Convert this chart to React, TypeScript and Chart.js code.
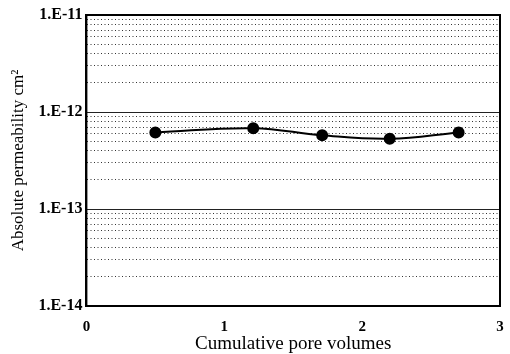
import React, { useEffect, useRef } from "react";
import { Chart, registerables } from "chart.js";

Chart.register(...registerables);

// ---- data ----
const poreVolumes = [0.5, 1.21, 1.71, 2.2, 2.7];
const permeability = [6.15e-13, 6.8e-13, 5.75e-13, 5.3e-13, 6.15e-13];
const xTickValues = [0, 1, 2, 3];
const xTickLabels = ["0", "1", "2", "3"];
const decadeValues = [1e-14, 1e-13, 1e-12, 1e-11];
const decadeLabels = ["1.E-14", "1.E-13", "1.E-12", "1.E-11"];
const mantissas = [1, 2, 3, 4, 5, 6, 7, 8, 9];

const FONT = "'Liberation Serif', 'DejaVu Serif', serif";

function isDecade(v: number) {
  const l = Math.log10(v);
  return Math.abs(l - Math.round(l)) < 1e-6;
}
function decadeLabel(v: number) {
  const i = decadeValues.findIndex((d) => Math.abs(Math.log10(d) - Math.log10(v)) < 1e-6);
  return i >= 0 ? decadeLabels[i] : "";
}

const allYTicks: number[] = [];
for (let k = 0; k < decadeValues.length - 1; k++) {
  for (const m of mantissas) allYTicks.push(m * decadeValues[k]);
}
allYTicks.push(decadeValues[decadeValues.length - 1]);

// solid decade grid lines + frame, positioned by the y scale
const framePlugin = {
  id: "frame",
  beforeDatasetsDraw(chart: any) {
    const { ctx, chartArea } = chart;
    const ys = chart.scales.y;
    ctx.save();
    ctx.strokeStyle = "#222";
    ctx.lineWidth = 1;
    for (const v of decadeValues) {
      const py = Math.round(ys.getPixelForValue(v)) + 0.5;
      ctx.beginPath();
      ctx.moveTo(chartArea.left, py);
      ctx.lineTo(chartArea.right, py);
      ctx.stroke();
    }
    ctx.restore();
  },
  afterDraw(chart: any) {
    const { ctx, chartArea } = chart;
    ctx.save();
    ctx.strokeStyle = "#000";
    ctx.lineWidth = 2;
    ctx.strokeRect(chartArea.left, chartArea.top, chartArea.right - chartArea.left, chartArea.bottom - chartArea.top);
    ctx.restore();
  },
};

export default function App() {
  const ref = useRef<HTMLCanvasElement | null>(null);
  useEffect(() => {
    document.body.style.margin = "0";
    const chart = new Chart(ref.current as HTMLCanvasElement, {
      type: "line",
      data: {
        datasets: [
          {
            data: poreVolumes.map((x, i) => ({ x, y: permeability[i] })),
            borderColor: "#000",
            backgroundColor: "#000",
            borderWidth: 2,
            pointRadius: 5,
            pointBackgroundColor: "#000",
            pointBorderColor: "#000",
            tension: 0.4,
            fill: false,
          },
        ],
      },
      options: {
        animation: false,
        responsive: false,
        maintainAspectRatio: false,
        layout: { padding: { top: 15, right: 10, bottom: 0, left: 8 } },
        plugins: { legend: { display: false }, tooltip: { enabled: false } },
        scales: {
          x: {
            type: "linear",
            min: 0,
            max: 3,
            afterBuildTicks: (s: any) => {
              s.ticks = xTickValues.map((v) => ({ value: v }));
            },
            afterFit: (s: any) => {
              s.paddingRight = 0;
              s.paddingLeft = 0;
              s.height = 48;
            },
            ticks: {
              color: "#000",
              font: { family: FONT, size: 15, weight: "bold" },
              padding: 12,
              maxRotation: 0,
              callback: (v: any) => xTickLabels[xTickValues.indexOf(Number(v))] ?? "",
            },
            grid: { display: false, drawTicks: false },
            border: { display: true, color: "#000", width: 2 },
            title: {
              display: true,
              text: "Cumulative pore volumes",
              color: "#000",
              font: { family: FONT, size: 19, lineHeight: 1.0 },
              padding: { top: 0, bottom: 0 },
            },
          },
          y: {
            type: "logarithmic",
            position: "left",
            min: 1e-14,
            max: 1e-11,
            afterBuildTicks: (s: any) => {
              s.ticks = allYTicks.map((v) => ({ value: v }));
            },
            ticks: {
              autoSkip: false,
              color: "#000",
              font: { family: FONT, size: 16, weight: "bold" },
              padding: 4,
              callback: (v: any) => decadeLabel(Number(v)),
            },
            grid: {
              drawTicks: false,
              lineWidth: 1,
              color: (c: any) => (c.tick && isDecade(c.tick.value) ? "rgba(0,0,0,0)" : "#333"),
            },
            border: { display: true, color: "#000", width: 2, dash: [1, 2.5] },
            title: {
              display: true,
              text: "Absolute permeability cm²",
              color: "#000",
              font: { family: FONT, size: 17 },
              padding: { top: 0, bottom: 6 },
            },
          },
        },
      } as any,
      plugins: [framePlugin],
    });
    return () => chart.destroy();
  }, []);
  return (
    <div style={{ position: "relative", width: 510, height: 354 }}>
      <canvas ref={ref} width={510} height={354} style={{ width: 510, height: 354 }} />
    </div>
  );
}
